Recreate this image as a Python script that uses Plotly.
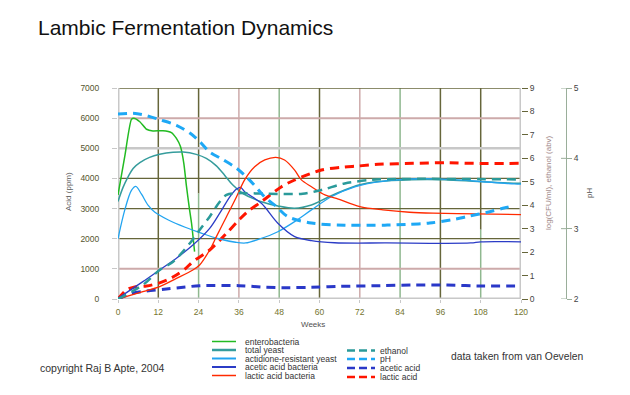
import plotly.graph_objects as go

# ---------------- data ----------------
# log(CFU/ml) series on the right axis (0-9)
entero_w = [0, 2, 4, 4.7, 6.5, 8.5, 10.4, 13.4, 15.9, 17.4, 18.6, 19.6, 20.4, 21.2, 21.9, 22.8]
entero_v = [4.44, 6.07, 7.66, 7.71, 7.56, 7.24, 7.17, 7.18, 7.10, 6.85, 6.50, 5.79, 4.79, 3.92, 3.23, 2.02]

yeast_w = [0, 1.5, 3, 4.5, 6.5, 9.4, 12.4, 16.4, 19.4, 23.3, 26.3, 29.3, 31.8, 34.2, 37.2, 42.7,
           47.6, 52.6, 57.6, 62.5, 67.5, 72, 77, 87.2, 97.2, 107.1, 116, 120]
yeast_v = [4.16, 4.76, 5.21, 5.57, 5.82, 6.04, 6.17, 6.26, 6.27, 6.17, 6.00, 5.68, 5.27, 4.86, 4.50, 4.15,
           3.97, 3.87, 4.01, 4.34, 4.65, 4.87, 5.00, 5.09, 5.09, 5.01, 4.95, 4.94]

actid_w = [0, 2, 4, 5.3, 7, 9, 11, 15, 20, 25, 30, 35, 38, 42, 47.6, 52.6, 57.6, 63.5, 70.5, 78, 90,
           100, 110, 118, 120]
actid_v = [2.57, 3.79, 4.63, 4.80, 4.47, 3.99, 3.70, 3.37, 3.06, 2.80, 2.57, 2.42, 2.39, 2.55, 2.87,
           3.30, 3.80, 4.36, 4.78, 5.01, 5.13, 5.09, 4.99, 4.91, 4.90]

aab_w = [0, 7.4, 12.4, 17.4, 22.3, 27.3, 30.3, 33.3, 35.3, 36.5, 37.7, 42.7, 47.6, 52.6, 57.6, 64.5,
         80, 105, 108, 120]
aab_v = [0.03, 0.74, 1.24, 1.74, 2.30, 3.01, 3.66, 4.36, 4.69, 4.76, 4.58, 4.08, 3.23, 2.66, 2.49, 2.40,
         2.39, 2.39, 2.44, 2.44]

lab_w = [0, 7.4, 12.4, 17.4, 22.3, 24.3, 27.3, 29.3, 32.3, 35.3, 37.7, 40.7, 43.7, 47, 49.6, 52.6,
         54.6, 57.6, 61.6, 65, 72, 78.9, 86.8, 93.8, 106.7, 120]
lab_v = [0.0, 0.31, 0.53, 0.88, 1.24, 1.45, 2.09, 2.66, 3.51, 4.36, 5.08, 5.64, 5.93, 6.04, 5.93, 5.50,
         5.08, 4.79, 4.44, 4.29, 3.94, 3.80, 3.70, 3.66, 3.63, 3.60]

# ethanol (abv), right axis
eth_w = [0, 7.4, 12.4, 16.4, 21.4, 24.3, 27.3, 30.3, 32.3, 35.3, 45, 55, 60.6, 67.5, 75.5, 84, 120]
eth_v = [0.0, 0.60, 1.24, 1.59, 2.38, 2.94, 3.51, 4.15, 4.44, 4.51, 4.49, 4.49, 4.65, 4.93, 5.08, 5.12, 5.10]

# pH, far-right axis (2-5)
ph_w = [0, 4.5, 7.4, 12.4, 17.4, 21.4, 24.3, 27.3, 31.3, 35.3, 37.7, 40.2, 43.7, 47, 50.6, 57.6,
        67.5, 79.4, 85.9, 92.8, 99.8, 104.7, 109.7, 114.6, 118]
ph_v = [4.63, 4.64, 4.62, 4.55, 4.47, 4.36, 4.24, 4.09, 3.98, 3.86, 3.76, 3.64, 3.45, 3.32, 3.17, 3.08,
        3.05, 3.05, 3.06, 3.08, 3.13, 3.18, 3.23, 3.29, 3.33]

# acids (ppm), left axis
acet_w = [0, 4, 8.5, 14.4, 19.4, 24.3, 36, 44, 50, 57.6, 66, 78, 88, 98, 108, 120]
acet_v = [0, 180, 265, 332, 387, 442, 442, 390, 376, 387, 420, 442, 464, 464, 431, 431]

lact_w = [0, 2.5, 5, 8.5, 12, 15, 17.4, 20, 22.3, 27.3, 32.3, 36, 38.6, 42.7, 48.7, 52.6, 60.6, 66.5,
          71.5, 77.4, 87.8, 97.8, 105.7, 120]
lact_v = [0, 300, 400, 430, 520, 650, 796, 1000, 1238, 1626, 2179, 2620, 2900, 3228, 3726, 3948, 4280,
          4368, 4412, 4467, 4500, 4522, 4500, 4500]

x_ticks = [0, 12, 24, 36, 48, 60, 72, 84, 96, 108, 120]

# ---------------- styling ----------------
FONT = "Liberation Sans, Arial, sans-serif"
C_ENT = "#22bb22"
C_YST = "#359c9c"
C_ACT = "#22a4f0"
C_AAB = "#2b3cc6"
C_LAB = "#ff2a00"
C_ETH = "#2a9a9a"
C_PH = "#1ea8f5"
C_ACET = "#2a38c8"
C_LACT = "#ff1500"

OLIVE = "#66663a"
PINK = "#cdaaaa"
GRAY = "#c8c8c8"
GREEN = "#8fb88f"
PHAX = "#9aae9a"

W, H = 630, 395
L, R, T, B = 118, 64, 88, 96
PW = W - L - R          # paper width (448): pH axis at paper x = 1
PH = H - T - B          # 211
XDOM = (521 - L) / PW   # x axis domain end


def pxx(px):
    return (px - L) / PW


def pxy(py):
    return (H - B - py) / PH


fig = go.Figure()

sm = 0.9
fig.add_trace(go.Scatter(x=entero_w, y=entero_v, yaxis="y2", mode="lines",
                         line=dict(color=C_ENT, width=1.5, shape="spline", smoothing=0.6)))
fig.add_trace(go.Scatter(x=yeast_w, y=yeast_v, yaxis="y2", mode="lines",
                         line=dict(color=C_YST, width=1.5, shape="spline", smoothing=sm)))
fig.add_trace(go.Scatter(x=actid_w, y=actid_v, yaxis="y2", mode="lines",
                         line=dict(color=C_ACT, width=1.3, shape="spline", smoothing=sm)))
fig.add_trace(go.Scatter(x=aab_w, y=aab_v, yaxis="y2", mode="lines",
                         line=dict(color=C_AAB, width=1.3, shape="spline", smoothing=sm)))
fig.add_trace(go.Scatter(x=lab_w, y=lab_v, yaxis="y2", mode="lines",
                         line=dict(color=C_LAB, width=1.3, shape="spline", smoothing=sm)))
fig.add_trace(go.Scatter(x=eth_w, y=eth_v, yaxis="y2", mode="lines",
                         line=dict(color=C_ETH, width=2.5, dash="9px,6px", shape="spline", smoothing=sm)))
fig.add_trace(go.Scatter(x=ph_w, y=ph_v, yaxis="y3", mode="lines",
                         line=dict(color=C_PH, width=3, dash="9px,6px", shape="spline", smoothing=sm)))
fig.add_trace(go.Scatter(x=acet_w, y=acet_v, yaxis="y", mode="lines",
                         line=dict(color=C_ACET, width=3, dash="9px,6px", shape="spline", smoothing=sm)))
fig.add_trace(go.Scatter(x=lact_w, y=lact_v, yaxis="y", mode="lines",
                         line=dict(color=C_LACT, width=3, dash="9px,6px", shape="spline", smoothing=sm)))

shapes = []
# vertical grid lines
vcol = {12: OLIVE, 36: PINK, 48: GREEN, 60: OLIVE, 72: PINK, 84: GREEN, 96: OLIVE}
for xv, col in vcol.items():
    shapes.append(dict(type="line", xref="x", yref="y", x0=xv, x1=xv, y0=0, y1=7000,
                       line=dict(color=col, width=1.5), layer="below"))
for xv, split in ((24, 3500), (108, 2300)):
    shapes.append(dict(type="line", xref="x", yref="y", x0=xv, x1=xv, y0=split, y1=7000,
                       line=dict(color=OLIVE, width=1.5), layer="below"))
    shapes.append(dict(type="line", xref="x", yref="y", x0=xv, x1=xv, y0=0, y1=split,
                       line=dict(color=GREEN, width=1.5), layer="below"))
# horizontal grid lines
hcol = {1000: PINK, 2000: OLIVE, 3000: OLIVE, 4000: OLIVE, 5000: GRAY, 6000: PINK, 7000: OLIVE}
for yv, col in hcol.items():
    wdt = 2.5 if col == GRAY else (2 if col == PINK else 1.3)
    shapes.append(dict(type="line", xref="x", yref="y", x0=0, x1=120, y0=yv, y1=yv,
                       line=dict(color=col, width=wdt), layer="below"))
# thick gray frame lines
for xv in (0, 120):
    shapes.append(dict(type="line", xref="x", yref="y", x0=xv, x1=xv, y0=0, y1=7000,
                       line=dict(color=GRAY, width=3), layer="below"))
shapes.append(dict(type="line", xref="x", yref="y", x0=0, x1=120, y0=0, y1=0,
                   line=dict(color=GRAY, width=3), layer="below"))
# inner half of the cross ticks on the pH axis
for pv in (2, 3, 4, 5):
    shapes.append(dict(type="line", xref="paper", yref="y3", x0=pxx(561), x1=1, y0=pv, y1=pv,
                       line=dict(color=PHAX, width=1)))

annotations = []
# legend (drawn manually to match the two-column layout)
leg1 = [("enterobacteria", C_ENT, 1.5), ("total yeast", C_YST, 2.5),
        ("actidione-resistant yeast", C_ACT, 2), ("acetic acid bacteria", C_AAB, 2),
        ("lactic acid bacteria", C_LAB, 1.5)]
rows1 = [341.5, 350, 358.5, 367, 375.5]
for (name, col, wdt), py in zip(leg1, rows1):
    shapes.append(dict(type="line", xref="paper", yref="paper", x0=pxx(212), x1=pxx(236),
                       y0=pxy(py), y1=pxy(py), line=dict(color=col, width=wdt)))
    annotations.append(dict(text=name, xref="paper", yref="paper", x=pxx(243), y=pxy(py),
                            xanchor="left", yanchor="middle", showarrow=False,
                            font=dict(family=FONT, size=8.5, color="#333333")))
leg2 = [("ethanol", C_ETH), ("pH", C_PH), ("acetic acid", C_ACET), ("lactic acid", C_LACT)]
rows2 = [350.5, 359, 368, 377]
for (name, col), py in zip(leg2, rows2):
    shapes.append(dict(type="line", xref="paper", yref="paper", x0=pxx(347), x1=pxx(375),
                       y0=pxy(py), y1=pxy(py), line=dict(color=col, width=2.5, dash="8px,4px")))
    annotations.append(dict(text=name, xref="paper", yref="paper", x=pxx(378), y=pxy(py),
                            xanchor="left", yanchor="middle", showarrow=False,
                            font=dict(family=FONT, size=8.5, color="#333333")))

annotations += [
    dict(text="Acid (ppm)", xref="paper", yref="paper", x=pxx(68), y=pxy(192), textangle=-90,
         xanchor="center", yanchor="middle", showarrow=False,
         font=dict(family=FONT, size=8, color="#606060")),
    dict(text="log(CFU/ml), ethanol (abv)", xref="paper", yref="paper", x=pxx(548), y=pxy(183),
         xanchor="center", yanchor="middle", textangle=-90, showarrow=False,
         font=dict(family=FONT, size=8, color="#a08888")),
    dict(text="pH", xref="paper", yref="paper", x=pxx(589), y=pxy(193), textangle=-90,
         xanchor="center", yanchor="middle", showarrow=False,
         font=dict(family=FONT, size=8, color="#505050")),
    dict(text="Weeks", xref="paper", yref="paper", x=pxx(313), y=pxy(324.5),
         xanchor="center", yanchor="middle", showarrow=False,
         font=dict(family=FONT, size=8, color="#505050")),
    dict(text="copyright Raj B Apte, 2004", xref="paper", yref="paper", x=pxx(38), y=pxy(368),
         xanchor="left", yanchor="middle", showarrow=False,
         font=dict(family=FONT, size=10.5, color="#333333")),
    dict(text="data taken from van Oevelen", xref="paper", yref="paper", x=pxx(449), y=pxy(356),
         xanchor="left", yanchor="middle", showarrow=False,
         font=dict(family=FONT, size=10.3, color="#333333")),
]

tickfont = dict(family=FONT, size=8.5, color="#55552e")

fig.update_layout(
    width=W, height=H,
    margin=dict(l=L, r=R, t=T, b=B),
    paper_bgcolor="white", plot_bgcolor="white",
    showlegend=False,
    title=dict(text="Lambic Fermentation Dynamics", x=38 / W, xanchor="left",
               y=1 - 28 / H, yanchor="middle", yref="container",
               font=dict(family=FONT, size=21, color="#111111")),
    xaxis=dict(domain=[0, XDOM], range=[0, 120], tickvals=x_ticks, showgrid=False,
               zeroline=False, showline=False, ticks="outside", ticklen=3, tickcolor=GRAY,
               ticklabelstandoff=2,
               tickfont=dict(family=FONT, size=8.5, color="#74742e"), automargin=False),
    yaxis=dict(range=[0, 7000], dtick=1000, showgrid=False, zeroline=False, showline=False,
               ticks="outside", ticklen=5, tickcolor=GRAY, ticklabelstandoff=11,
               tickfont=tickfont, automargin=False),
    yaxis2=dict(range=[0, 9], dtick=1, overlaying="y", side="right", anchor="x",
                showgrid=False, zeroline=False, showline=False, ticks="outside", ticklen=6,
                tickcolor=OLIVE, tickfont=dict(family=FONT, size=8.5, color="#444444"),
                automargin=False),
    yaxis3=dict(range=[2, 5], dtick=1, overlaying="y", side="right", anchor="free", position=1,
                showgrid=False, zeroline=False, showline=True, linecolor=PHAX, linewidth=1,
                ticks="outside", ticklen=5, tickcolor=PHAX,
                tickfont=dict(family=FONT, size=8.5, color="#444444"), automargin=False),
    shapes=shapes,
    annotations=annotations,
)

fig.write_html("out.html", config={"displayModeBar": False},
               post_script="document.body.style.margin='0';document.body.style.padding='0';")
